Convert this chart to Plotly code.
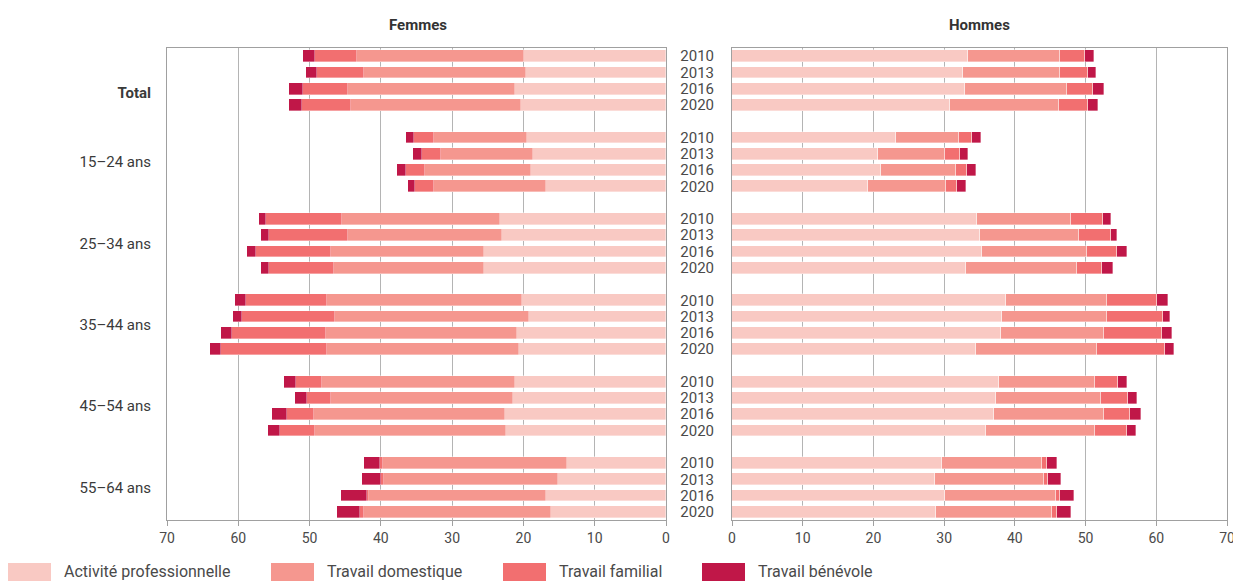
import plotly.graph_objects as go
from plotly.subplots import make_subplots

categories = ["Total", "15–24 ans", "25–34 ans", "35–44 ans", "45–54 ans", "55–64 ans"]
years = ["2010", "2013", "2016", "2020"]
series_names = ["Activité professionnelle", "Travail domestique", "Travail familial", "Travail bénévole"]
series_colors = ["#f9c9c3", "#f5978f", "#f26f70", "#c01748"]

femmes_prof = [19.9, 19.7, 21.2, 20.4, 19.5, 18.7, 18.9, 16.8, 23.3, 23.0, 25.5, 25.5,
               20.2, 19.2, 20.9, 20.6, 21.2, 21.4, 22.6, 22.4, 13.9, 15.1, 16.8, 16.1]
femmes_dom = [23.4, 22.7, 23.4, 23.8, 13.0, 12.8, 14.9, 15.7, 22.1, 21.6, 21.5, 21.1,
              27.3, 27.3, 26.8, 26.9, 27.1, 25.6, 26.8, 26.8, 25.8, 24.5, 24.9, 26.2]
femmes_fam = [5.9, 6.5, 6.3, 6.9, 2.9, 2.7, 2.7, 2.7, 10.7, 11.1, 10.5, 9.1,
              11.4, 13.0, 13.2, 14.9, 3.6, 3.4, 3.8, 4.9, 0.4, 0.4, 0.3, 0.6]
femmes_ben = [1.7, 1.6, 2.0, 1.8, 1.1, 1.3, 1.2, 1.0, 1.0, 1.1, 1.3, 1.1,
              1.5, 1.3, 1.5, 1.6, 1.7, 1.6, 2.1, 1.8, 2.3, 2.6, 3.6, 3.3]

hommes_prof = [33.4, 32.6, 32.9, 30.8, 23.2, 20.7, 21.1, 19.2, 34.7, 35.1, 35.3, 33.1,
               38.8, 38.2, 38.0, 34.5, 37.8, 37.4, 37.0, 35.9, 29.7, 28.7, 30.1, 28.8]
hommes_dom = [13.0, 13.8, 14.5, 15.4, 8.9, 9.4, 10.6, 11.1, 13.3, 13.9, 14.9, 15.7,
              14.2, 14.9, 14.6, 17.1, 13.5, 14.8, 15.6, 15.4, 14.2, 15.4, 15.7, 16.5]
hommes_fam = [3.5, 3.9, 3.7, 4.1, 1.8, 2.1, 1.6, 1.5, 4.5, 4.6, 4.3, 3.5,
              7.1, 7.8, 8.2, 9.6, 3.3, 3.8, 3.7, 4.5, 0.7, 0.6, 0.6, 0.7]
hommes_ben = [1.3, 1.2, 1.5, 1.5, 1.3, 1.2, 1.2, 1.3, 1.1, 0.9, 1.3, 1.6,
              1.5, 1.0, 1.4, 1.3, 1.2, 1.3, 1.5, 1.4, 1.4, 1.8, 1.9, 2.0]

x_ticks = [0, 10, 20, 30, 40, 50, 60, 70]

femmes = [femmes_prof, femmes_dom, femmes_fam, femmes_ben]
hommes = [hommes_prof, hommes_dom, hommes_fam, hommes_ben]

# row positions: 4 years per group, one empty slot between groups
slot = len(years) + 1
ypos = [g * slot + j for g in range(len(categories)) for j in range(len(years))]
year_labels = [years[j] for g in range(len(categories)) for j in range(len(years))]
group_centers = [g * slot + (len(years) - 1) / 2 for g in range(len(categories))]
group_centers[0] += 0.75  # the "Total" label sits slightly low in the original
group_labels = ["<b>" + c + "</b>" if c == "Total" else c for c in categories]

FONT = "Roboto, 'Noto Sans', sans-serif"
GRID = "#b4b4b4"
LINE = "#a0a0a0"
TXT = "#4a4a4a"

fig = make_subplots(rows=1, cols=2, horizontal_spacing=0.0)

for i, name in enumerate(series_names):
    fig.add_trace(go.Bar(
        x=femmes[i], y=ypos, orientation="h", name=name,
        marker=dict(color=series_colors[i], line=dict(width=0.5, color="rgba(255,255,255,0.7)")),
        width=0.72, showlegend=False,
        hovertemplate="Femmes %{y}: %{x}<extra>" + name + "</extra>"), row=1, col=1)
    fig.add_trace(go.Bar(
        x=hommes[i], y=ypos, orientation="h", name=name,
        marker=dict(color=series_colors[i], line=dict(width=0.5, color="rgba(255,255,255,0.7)")),
        width=0.72, showlegend=False,
        hovertemplate="Hommes %{y}: %{x}<extra>" + name + "</extra>"), row=1, col=2)

# the page body has an 8px margin: the figure is shifted by it, so compensate
OFF = 8
W, H = 1241 - OFF, 581 - OFF
L, T = 167 - OFF, 48 - OFF
R = W - (1227 - OFF)
B = H - (520 - OFF)
pw = W - L - R
ph = H - T - B


def px_x(px):  # page pixel -> paper
    return (px - OFF - L) / pw


def px_y(py):
    return (H - B - (py - OFF)) / ph


left_dom = [0, px_x(666)]
right_dom = [px_x(732), 1]

yr = [ypos[-1] + 0.5, -0.5]

axis_common = dict(showgrid=True, gridcolor=GRID, gridwidth=1, zeroline=False,
                   showline=True, linecolor=LINE, linewidth=1, mirror=True,
                   tickvals=x_ticks, ticktext=[str(v) for v in x_ticks],
                   ticks="outside", ticklen=5, tickcolor=LINE, automargin=False,
                   tickfont=dict(family=FONT, size=14, color=TXT))

fig.update_layout(
    width=W, height=H,
    margin=dict(l=L, r=R, t=T, b=B, autoexpand=False),
    paper_bgcolor="white", plot_bgcolor="white",
    barmode="stack", bargap=0,
    font=dict(family=FONT, color=TXT),
    showlegend=False,
    xaxis=dict(domain=left_dom, range=[70, 0], **axis_common),
    xaxis2=dict(domain=right_dom, range=[0, 70], **axis_common),
    yaxis=dict(range=yr, tickvals=group_centers, ticktext=group_labels, automargin=False,
               showline=True, linecolor=LINE, mirror=True, showgrid=False, zeroline=False,
               ticks="", ticklabelstandoff=12,
               tickfont=dict(family=FONT, size=15, color="#3a3a3a")),
    yaxis2=dict(range=yr, tickvals=ypos, ticktext=year_labels, automargin=False,
                showline=True, linecolor=LINE, mirror=True, showgrid=False, zeroline=False,
                ticks="", ticklabelstandoff=14,
                tickfont=dict(family=FONT, size=15, color=TXT)),
)

fig.add_annotation(x=px_x(418), y=px_y(25), xref="paper", yref="paper", text="<b>Femmes</b>",
                   xanchor="center", yanchor="middle",
                   showarrow=False, font=dict(family=FONT, size=15, color="#333333"))
fig.add_annotation(x=px_x(979), y=px_y(25), xref="paper", yref="paper", text="<b>Hommes</b>",
                   xanchor="center", yanchor="middle",
                   showarrow=False, font=dict(family=FONT, size=15, color="#333333"))

# custom legend with large swatches
legend_x = [8, 271, 503, 702]
for i, name in enumerate(series_names):
    x0 = legend_x[i]
    fig.add_shape(type="rect", xref="paper", yref="paper",
                  x0=px_x(x0), x1=px_x(x0 + 43), y0=px_y(584), y1=px_y(563),
                  fillcolor=series_colors[i], line=dict(width=0), layer="above")
    fig.add_annotation(x=px_x(x0 + 54), y=px_y(571), xref="paper", yref="paper",
                       text=name, showarrow=False, xanchor="left", yanchor="middle",
                       font=dict(family=FONT, size=16, color=TXT))

fig.write_html("out.html")
